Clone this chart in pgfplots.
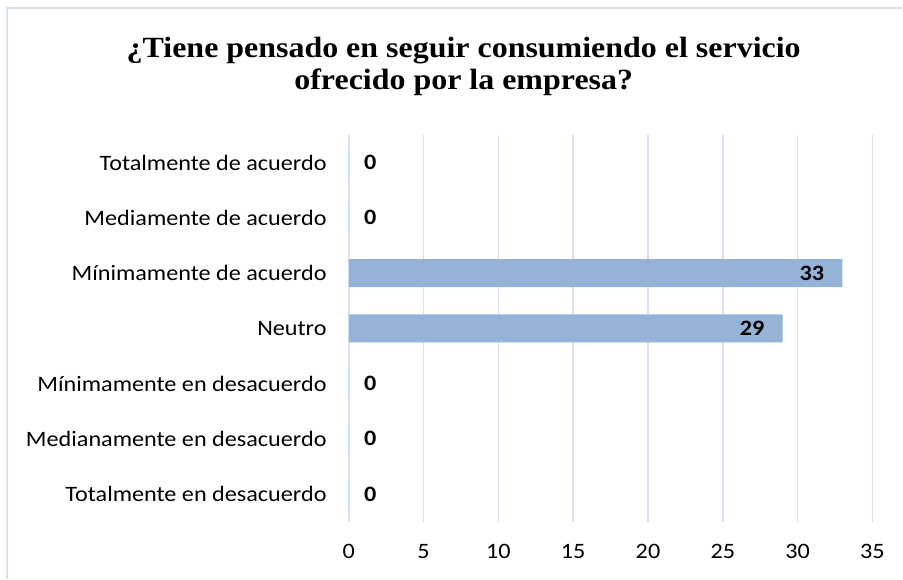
\documentclass[border=0pt]{standalone}
\usepackage{pgfplots}
\pgfplotsset{compat=1.18}
\usepackage{fontspec}
\setmainfont{Carlito}[FakeStretch=1.1]
\newfontfamily\titlefont{Liberation Serif}[FakeStretch=1.09]
\definecolor{barblue}{HTML}{95B3D7}
\definecolor{gridblue}{HTML}{D5E1F1}
\definecolor{framec}{HTML}{D6E0EE}
\begin{document}
\begin{tikzpicture}[x=0.75pt,y=0.75pt]
\path[fill=white] (0,0) rectangle (903,579);
\draw[framec, line width=0.9pt] (7,0) -- (7,571) -- (903,571);
\node[font=\titlefont\bfseries\fontsize{22}{26}\selectfont, anchor=base] at (464,521) {¿Tiene pensado en seguir consumiendo el servicio};
\node[font=\titlefont\bfseries\fontsize{22}{26}\selectfont, anchor=base] at (464,489) {ofrecido por la empresa?};
\begin{axis}[
  at={(261.75pt,42.75pt)}, anchor=south west,
  scale only axis, width=393pt, height=290.25pt,
  xmin=0, xmax=35, ymin=-0.5, ymax=6.5,
  xtick={0,5,...,35},
  ytick={0,...,6},
  yticklabels={Totalmente en desacuerdo,Medianamente en desacuerdo,Mínimamente en desacuerdo,Neutro,Mínimamente de acuerdo,Mediamente de acuerdo,Totalmente de acuerdo},
  xmajorgrids, major grid style={gridblue, line width=1.1pt},
  axis line style={draw=none},
  major tick length=0pt,
  /pgf/number format/assume math mode=true,
  tick label style={font=\fontsize{16.5}{19}\selectfont, text=black, inner sep=0pt},
  yticklabel style={xshift=-16.5pt},
  xticklabel style={yshift=-17pt},
  clip=false,
]
\addplot[xbar, bar width=21pt, fill=barblue, draw=none] coordinates {(0,6) (0,5) (33,4) (29,3) (0,2) (0,1) (0,0)};
\addplot[draw=none, mark=none, point meta=x, nodes near coords,
  every node near coord/.style={anchor=east, inner sep=0pt, xshift=-13.5pt, font=\bfseries\fontsize{16.5}{19}\selectfont, /pgf/number format/assume math mode=true}]
  coordinates {(33,4) (29,3)};
\addplot[draw=none, mark=none, point meta=x, nodes near coords,
  every node near coord/.style={anchor=west, inner sep=0pt, xshift=11.25pt, font=\bfseries\fontsize{16.5}{19}\selectfont, /pgf/number format/assume math mode=true}]
  coordinates {(0,6) (0,5) (0,2) (0,1) (0,0)};
\end{axis}
\end{tikzpicture}
\end{document}
